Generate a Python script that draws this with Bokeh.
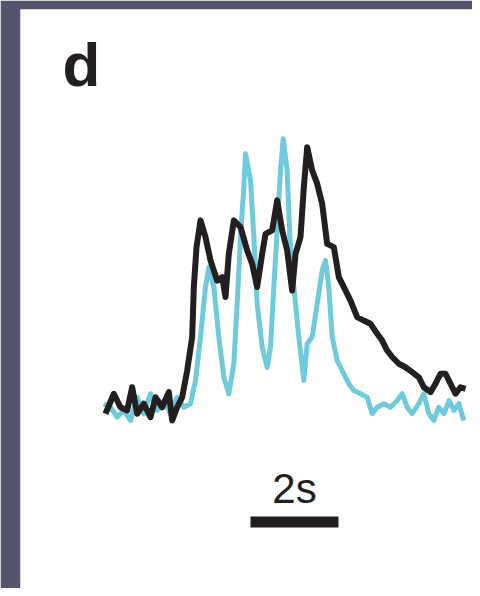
from bokeh.plotting import figure
from bokeh.models import Range1d, Label
from bokeh.embed import file_html
from bokeh.resources import INLINE

# Black trace: time (s) and amplitude (a.u., % of peak)
black_t = [0.045, 0.235, 0.386, 0.538, 0.652, 0.765, 0.917, 1.068, 1.182, 1.333, 1.485, 1.561,
           1.674, 1.788, 1.902, 2.015, 2.053, 2.114, 2.205, 2.318, 2.432, 2.583, 2.697, 2.773,
           2.848, 2.962, 3.114, 3.265, 3.379, 3.492, 3.606, 3.682, 3.833, 3.947, 4.061, 4.174,
           4.288, 4.364, 4.477, 4.553, 4.629, 4.742, 4.856, 4.970, 5.083, 5.235, 5.348, 5.462,
           5.614, 5.765, 5.917, 6.068, 6.220, 6.333, 6.447, 6.561, 6.712, 6.864, 7.015, 7.167,
           7.280, 7.432, 7.545, 7.659, 7.773, 7.886, 8.000, 8.114, 8.227]
black_a = [-1.2, 6.2, 1.2, 0.0, 8.6, -1.2, 2.5, -2.5, 4.9, 1.2, 6.8, -3.7,
           1.2, 4.9, 14.8, 27.2, 45.7, 60.5, 70.4, 64.2, 55.6, 48.1, 49.4, 42.0,
           58.0, 70.4, 67.9, 59.3, 54.3, 45.7, 58.0, 65.4, 66.7, 77.8, 66.7, 59.3,
           44.4, 58.0, 64.2, 82.7, 97.5, 88.9, 84.0, 76.5, 61.7, 60.5, 49.4, 45.7,
           40.7, 34.6, 33.3, 32.1, 28.4, 25.9, 22.2, 19.8, 17.3, 16.0, 14.2, 12.3,
           8.6, 6.8, 9.9, 13.6, 13.6, 9.9, 6.2, 8.6, 8.0]

# Cyan trace
cyan_t = [0.008, 0.159, 0.311, 0.462, 0.614, 0.765, 0.917, 1.068, 1.220, 1.371, 1.523, 1.674,
          1.826, 1.977, 2.091, 2.205, 2.318, 2.394, 2.508, 2.621, 2.735, 2.848, 2.962, 3.038,
          3.114, 3.189, 3.227, 3.341, 3.417, 3.492, 3.606, 3.720, 3.795, 3.871, 3.947, 4.023,
          4.083, 4.174, 4.235, 4.326, 4.439, 4.553, 4.629, 4.742, 4.856, 4.970, 5.045, 5.121,
          5.197, 5.311, 5.462, 5.576, 5.689, 5.841, 5.992, 6.106, 6.220, 6.371, 6.523, 6.674,
          6.788, 6.902, 7.015, 7.167, 7.280, 7.394, 7.508, 7.621, 7.735, 7.856, 7.962, 8.076, 8.189]
cyan_a = [2.5, 1.2, -2.5, 0.0, -3.7, 4.9, -1.2, 6.2, 0.0, 3.7, -1.2, 4.9,
          1.2, 2.5, 11.1, 27.2, 45.7, 53.1, 45.7, 27.2, 12.3, 6.2, 17.3, 39.5,
          64.2, 82.7, 95.1, 85.2, 64.2, 39.5, 23.5, 16.0, 23.5, 45.7, 66.7, 88.9,
          100.6, 88.9, 64.2, 45.7, 27.2, 11.1, 24.7, 27.2, 39.5, 51.9, 55.6, 45.7,
          27.2, 18.5, 13.6, 9.9, 7.4, 6.2, 4.9, -1.2, 1.2, 2.5, 1.2, 3.7,
          6.2, 1.2, -1.2, 2.5, 6.2, -1.2, -3.7, 1.2, -1.2, 3.7, 0.0, 2.5, -3.7]

scale_start = 3.34
scale_len = 2.0
scale_level = -41.3
scale_label = "2s"
panel_label = "d"

p = figure(width=472, height=588, output_backend="svg", toolbar_location=None,
           x_range=Range1d(-1.886, 8.386), y_range=Range1d(-65.93, 148.5),
           min_border_left=20, min_border_top=9, min_border_right=0, min_border_bottom=0)
p.axis.visible = False
p.grid.visible = False
p.outline_line_color = None
p.border_fill_color = "#54546c"
p.background_fill_color = "white"

p.line(cyan_t, cyan_a, line_color="#6fcbdc", line_width=5, line_join="round")
p.line(black_t, black_a, line_color="#231f20", line_width=6, line_join="round")

p.segment(x0=[scale_start], y0=[scale_level], x1=[scale_start + scale_len], y1=[scale_level],
          line_color="#231f20", line_width=11, line_cap="butt")

p.add_layout(Label(x=scale_start + scale_len / 2, y=-28.9, text=scale_label,
                   text_font="Liberation Sans", text_font_size="42px",
                   text_align="center", text_baseline="alphabetic", text_color="#231f20"))
p.add_layout(Label(x=-0.932, y=128.1, text=panel_label,
                   text_font="Liberation Sans", text_font_size="62px", text_font_style="bold",
                   text_align="left", text_baseline="alphabetic", text_color="#231f20"))

open("out.html", "w").write(file_html(p, INLINE))
